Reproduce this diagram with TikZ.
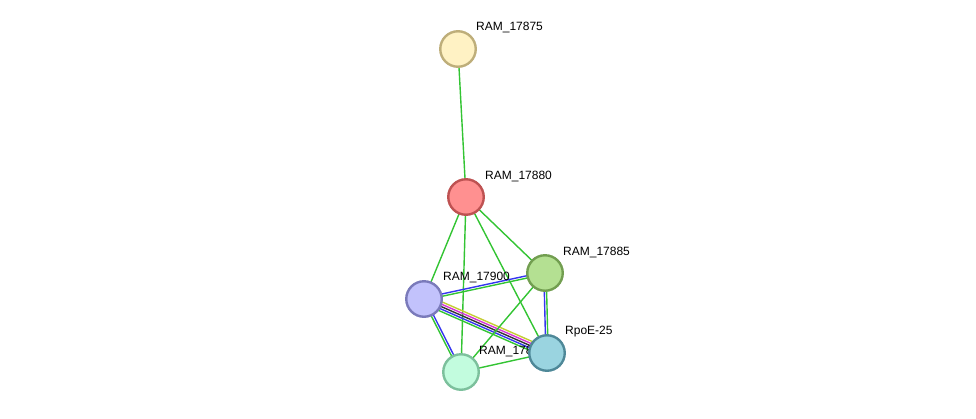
\documentclass[tikz,border=0pt]{standalone}
\usepackage{fontspec}
\setmainfont{Liberation Sans}
\usetikzlibrary{calc,backgrounds}
\definecolor{Link}{HTML}{33C433}
\definecolor{LinkB}{HTML}{3535F0}
\definecolor{LinkM}{HTML}{D633D6}
\definecolor{LinkY}{HTML}{C4CC33}
\definecolor{LinkK}{HTML}{333333}

\tikzset{
  prot/.style={circle,minimum size=35.5pt,inner sep=0pt,line width=2.4pt},
  lbl/.style={anchor=west,inner sep=0pt,font=\fontsize{12}{14}\selectfont},
  link/.style={line width=1.4pt},
}
% bundle of parallel links between two proteins
\newcommand\ppilink[3]{%
  \foreach \col [count=\k] in {#3} {\xdef\nlines{\k}}
  \foreach \col [count=\k] in {#3} {
    \pgfmathsetmacro\off{((\nlines+1)/2-\k)*2.3}
    \draw[link,\col] ($(#1)!\off pt!90:(#2)$) -- ($(#2)!\off pt!-90:(#1)$);
  }}

\begin{document}
\begin{tikzpicture}[x=1pt,y=-1pt]
\useasboundingbox (0,0) rectangle (976,418);
\node[prot,fill={rgb,255:red,255;green,242;blue,196},draw={rgb,255:red,190;green,174;blue,122}] (r17875) at (458,49) {};
\node[prot,fill={rgb,255:red,255;green,144;blue,144},draw={rgb,255:red,190;green,82;blue,82}] (r17880) at (466,197) {};
\node[prot,fill={rgb,255:red,180;green,224;blue,146},draw={rgb,255:red,114;green,158;blue,80}] (r17885) at (545,273) {};
\node[prot,fill={rgb,255:red,194;green,194;blue,252},draw={rgb,255:red,122;green,122;blue,186}] (r17900) at (424,299) {};
\node[prot,fill={rgb,255:red,154;green,212;blue,224},draw={rgb,255:red,78;green,136;blue,152}] (rpoe) at (547,353) {};
\node[prot,fill={rgb,255:red,194;green,252;blue,222},draw={rgb,255:red,124;green,192;blue,156}] (r17890) at (461,372) {};

\begin{pgfonlayer}{background}
\ppilink{r17875}{r17880}{Link}
\ppilink{r17880}{r17900}{Link}
\ppilink{r17880}{r17890}{Link}
\ppilink{r17880}{r17885}{Link}
\ppilink{r17880}{rpoe}{Link}
\ppilink{r17900}{r17885}{LinkB,Link}
\ppilink{r17900}{rpoe}{LinkY,LinkM,LinkK,LinkB,Link}
\ppilink{r17900}{r17890}{LinkB,Link}
\ppilink{r17885}{rpoe}{Link,LinkB}
\ppilink{r17885}{r17890}{Link}
\ppilink{r17890}{rpoe}{Link}
% labels
\node[lbl] (t17875) at ([shift={(18,-21)}]r17875.center) {RAM\_17875};
\node[lbl] (t17880) at ([shift={(19,-21)}]r17880.center) {RAM\_17880};
\node[lbl] (t17885) at ([shift={(18,-21)}]r17885.center) {RAM\_17885};
\node[lbl] (t17900) at ([shift={(19,-22)}]r17900.center) {RAM\_17900};
\node[lbl] (tpoe) at ([shift={(18,-21)}]rpoe.center) {RpoE-25};
\node[lbl] (t17890) at ([shift={(18,-21)}]r17890.center) {RAM\_17890};
\end{pgfonlayer}
\end{tikzpicture}
\end{document}
